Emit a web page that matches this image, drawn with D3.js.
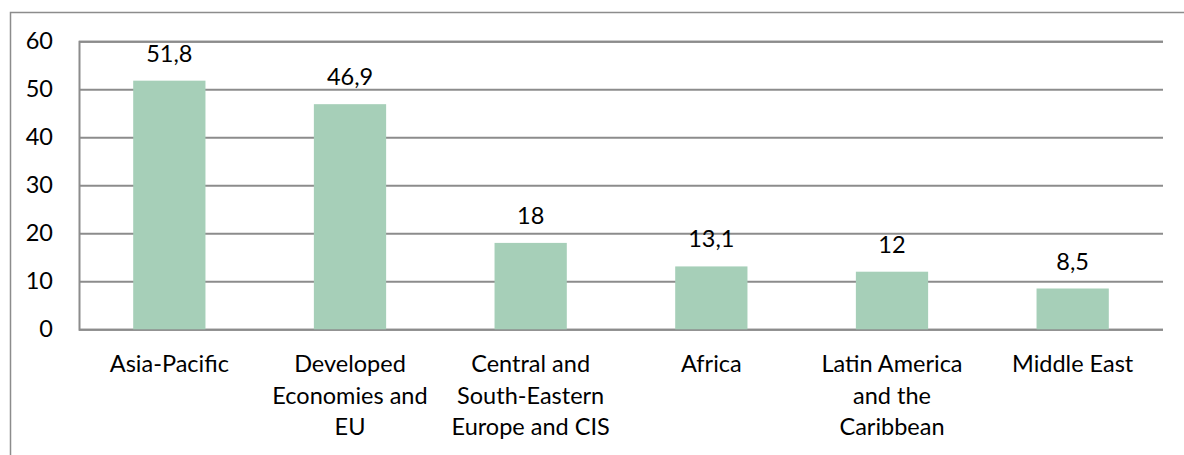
<!DOCTYPE html>
<html>
<head>
<meta charset="utf-8">
<script src="https://cdn.jsdelivr.net/npm/d3@7"></script>
<style>
  html, body { margin: 0; padding: 0; background: #fff; }
  svg { display: block; }
  text { font-family: Lato, "Open Sans", sans-serif; fill: #000; }
</style>
</head>
<body>
<svg id="chart" width="1184" height="455"></svg>
<script>
// Regions and their values
const categories = [
  "Asia-Pacific",
  "Developed Economies and EU",
  "Central and South-Eastern Europe and CIS",
  "Africa",
  "Latin America and the Caribbean",
  "Middle East"
];
// How each category label wraps under the axis
const categoryLines = [
  ["Asia-Pacific"],
  ["Developed", "Economies and", "EU"],
  ["Central and", "South-Eastern", "Europe and CIS"],
  ["Africa"],
  ["Latin America", "and the", "Caribbean"],
  ["Middle East"]
];
const values = [51.8, 46.9, 18, 13.1, 12, 8.5];
const yTicks = [0, 10, 20, 30, 40, 50, 60];

const svg = d3.select("#chart");
const plot = { left: 79, right: 1163, top: 41.3, bottom: 329.3 };
const fontSize = 23.5;
const grey = "#8c8c8c";

// Chart frame
svg.append("rect")
  .attr("x", 10.5).attr("y", 12.5)
  .attr("width", 1200).attr("height", 460)
  .attr("fill", "#fff")
  .attr("stroke", grey).attr("stroke-width", 1.5);

const x = d3.scaleBand()
  .domain(categories)
  .range([plot.left, plot.right])
  .paddingInner(0.6)
  .paddingOuter(0.3);

const y = d3.scaleLinear()
  .domain([0, 60])
  .range([plot.bottom, plot.top]);

// Horizontal gridlines and value axis
const yAxis = d3.axisLeft(y)
  .tickValues(yTicks)
  .tickSize(-(plot.right - plot.left))
  .tickPadding(26)
  .tickFormat(d3.format("d"));

const gy = svg.append("g")
  .attr("transform", `translate(${plot.left},0)`)
  .call(yAxis);
gy.selectAll(".tick line")
  .attr("stroke", grey).attr("stroke-width", 2);
gy.select(".domain")
  .attr("stroke", grey).attr("stroke-width", 2);
gy.selectAll(".tick text")
  .attr("font-size", fontSize)
  .attr("fill", "#000")
  .style("font-family", "Lato, 'Open Sans', sans-serif");

// Bars
svg.append("g")
  .selectAll("rect")
  .data(values)
  .join("rect")
  .attr("x", (d, i) => x(categories[i]))
  .attr("y", d => y(d))
  .attr("width", x.bandwidth())
  .attr("height", d => y(0) - y(d))
  .attr("fill", "#a6cfb8");

// Value labels with decimal comma
const fmt = v => String(v).replace(".", ",");
svg.append("g")
  .selectAll("text")
  .data(values)
  .join("text")
  .attr("x", (d, i) => x(categories[i]) + x.bandwidth() / 2)
  .attr("y", d => y(d) - 19)
  .attr("text-anchor", "middle")
  .attr("font-size", fontSize)
  .text(fmt);

// Category axis labels
const gx = svg.append("g");
categories.forEach((c, i) => {
  const t = gx.append("text")
    .attr("x", x(c) + x.bandwidth() / 2)
    .attr("y", 372)
    .attr("text-anchor", "middle")
    .attr("font-size", fontSize);
  categoryLines[i].forEach((line, j) => {
    t.append("tspan")
      .attr("x", x(c) + x.bandwidth() / 2)
      .attr("dy", j === 0 ? 0 : 31.5)
      .text(line);
  });
});
</script>
</body>
</html>
